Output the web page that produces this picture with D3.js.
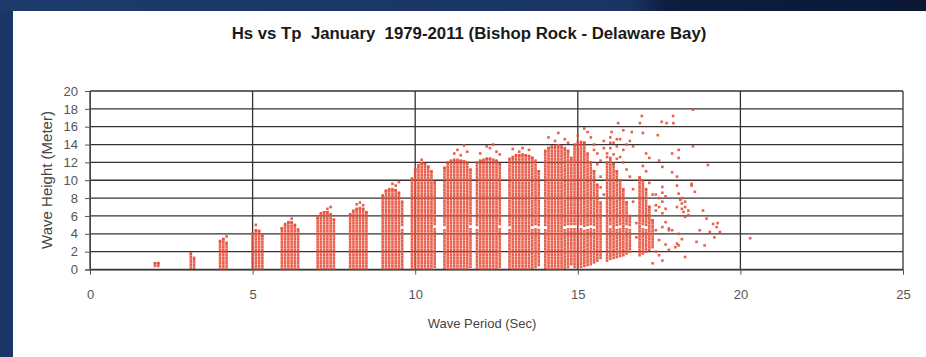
<!DOCTYPE html>
<html><head><meta charset="utf-8">
<script src="https://cdn.jsdelivr.net/npm/d3@7"></script>
<style>body{margin:0;background:#1b3768;}svg{display:block;}</style>
</head><body><svg id="c" width="926" height="357"></svg>
<script>
// ---- data ----
const titleText = "Hs vs Tp  January  1979-2011 (Bishop Rock - Delaware Bay)";
const xLabel = "Wave Period (Sec)";
const yLabel = "Wave Height (Meter)";
const xTicks = [0, 5, 10, 15, 20, 25];
const yTicks = [0, 2, 4, 6, 8, 10, 12, 14, 16, 18, 20];
// dense observation strips: [Tp, lowest Hs, highest Hs]
const strips = [
[2.0,0.4,0.7],[2.1,0.4,0.7],
[3.1,0.2,1.8],[3.2,0.2,1.3],
[4.0,0.1,3.2],[4.1,0.1,3.4],[4.2,0.1,3.0],
[5.0,0.1,4.0],[5.1,0.1,4.4],[5.2,0.1,4.3],[5.3,0.1,3.8],
[5.9,0.1,4.6],[6.0,0.1,5.1],[6.1,0.1,5.3],[6.2,0.1,5.3],[6.3,0.1,5.0],[6.4,0.1,4.5],
[7.0,0.1,5.8],[7.1,0.1,6.3],[7.2,0.1,6.4],[7.3,0.1,6.4],[7.4,0.1,6.2],[7.5,0.1,5.6],
[8.0,0.1,6.2],[8.1,0.1,6.6],[8.2,0.1,6.8],[8.3,0.1,6.9],[8.4,0.1,6.8],[8.5,0.1,6.4],
[9.0,0.1,8.3],[9.1,0.1,8.8],[9.2,0.1,9.0],[9.3,0.1,9.0],[9.4,0.1,8.9],[9.5,0.1,8.6],[9.6,0.2,7.6],
[9.9,0.1,10.2],[10.0,0.1,11.2],[10.1,0.1,11.7],[10.2,0.1,11.9],[10.3,0.1,11.8],[10.4,0.1,11.5],[10.5,0.1,11.0],[10.6,0.3,9.8],
[10.9,0.2,11.4],[11.0,0.1,12.0],[11.1,0.1,12.2],[11.2,0.1,12.3],[11.3,0.1,12.3],[11.4,0.1,12.2],[11.5,0.1,12.1],[11.6,0.1,12.0],[11.7,0.3,11.2],
[11.9,0.2,12.0],[12.0,0.1,12.2],[12.1,0.1,12.3],[12.2,0.1,12.4],[12.3,0.1,12.4],[12.4,0.1,12.3],[12.5,0.1,12.2],[12.6,0.3,11.8],
[12.9,0.2,12.4],[13.0,0.1,12.6],[13.1,0.1,12.8],[13.2,0.1,12.8],[13.3,0.1,12.9],[13.4,0.1,12.8],[13.5,0.1,12.7],[13.6,0.2,12.5],[13.7,0.3,12.2],[13.8,0.5,11.0],
[14.0,0.2,13.3],[14.1,0.1,13.6],[14.2,0.1,13.8],[14.3,0.1,13.8],[14.4,0.1,13.9],[14.5,0.1,13.8],[14.6,0.2,13.6],[14.7,0.3,13.3],[14.8,0.6,12.5],
[14.9,0.3,14.0],[15.0,0.3,14.3],[15.1,0.3,14.3],[15.2,0.4,14.2],[15.3,0.5,13.0],[15.4,0.6,12.0],[15.5,0.8,11.0],[15.6,1.0,9.5],[15.7,1.3,7.5],
[15.9,1.0,12.0],[16.0,1.2,12.5],[16.1,1.3,11.8],[16.2,1.4,11.0],[16.3,1.5,10.0],[16.4,1.6,9.0],[16.5,1.8,7.5],[16.6,2.0,6.0],
[16.9,1.6,10.3],[17.0,1.8,10.0],[17.1,2.0,9.0],[17.2,2.2,7.0],[17.3,2.5,5.5]
];
const hsStep = 0.3;             // Hs resolution of plotted strip records
const missingHs = [4.6, 4.85];  // Hs band with no records
// isolated observations: [Tp, Hs]
const scattered = [
[4.2,3.7],[5.1,5.0],[6.2,5.7],[7.3,6.8],[7.4,7.0],[8.2,7.3],[8.3,7.5],[8.4,7.2],[9.3,9.6],[9.5,9.8],[9.4,9.4],[10.2,12.3],
[11.2,13.0],[11.5,13.9],[11.4,12.8],[11.6,13.2],[11.3,13.4],
[12.0,13.0],[12.3,13.6],[12.4,14.0],[12.5,13.2],[12.2,13.8],[12.6,12.9],
[13.0,13.5],[13.3,13.6],[13.5,13.4],[13.2,13.2],
[14.1,14.8],[14.4,15.3],[14.6,14.6],[14.3,14.4],[14.7,14.2],
[15.0,15.0],[15.2,15.8],[15.4,14.8],[15.5,14.0],[15.6,13.0],[15.3,15.4],[15.7,12.2],[15.5,13.4],[15.8,14.4],[15.8,13.6],
[15.9,13.0],[16.0,13.6],[16.1,14.2],[16.2,13.8],[16.3,14.6],[16.4,13.4],[16.5,14.0],[16.6,14.4],[16.7,13.8],[16.0,14.8],
[15.9,12.6],[16.1,12.9],[16.2,12.4],[16.4,12.0],[16.0,14.2],[16.2,14.6],[15.6,11.8],[15.7,10.4],[15.7,9.2],[15.8,8.4],
[16.24,16.4],[16.4,15.6],[16.04,15.4],[16.66,15.4],[16.3,12.6],[16.5,11.2],[16.6,10.4],[16.7,9.0],[16.7,7.6],[16.8,5.2],[16.8,3.6],
[16.91,16.4],[16.97,17.2],[17.0,15.3],[17.1,13.0],[17.2,12.5],[17.0,11.6],[17.2,9.7],[17.3,8.4],[17.4,7.2],[17.4,4.4],[17.3,0.7],[17.4,2.0],[17.1,11.0],
[17.46,15.05],[17.58,16.55],[17.73,16.4],[17.94,16.4],[17.93,17.2],[18.54,17.9],[18.54,13.8],[17.5,12.2],[17.9,13.0],[18.1,13.4],[18.1,12.5],
[17.6,11.5],[17.9,10.9],[18.05,10.4],[19.0,11.7],[18.5,9.4],[18.05,9.4],[18.5,9.6],[18.6,8.7],[18.1,8.5],[18.15,7.8],[18.05,7.0],[18.25,6.45],
[18.3,5.9],[18.4,6.1],[18.85,6.6],[18.96,5.7],[19.16,5.1],[19.3,5.2],[19.37,4.2],[19.2,3.6],[19.06,4.2],[18.75,4.4],[18.65,3.1],[18.1,2.7],
[18.0,2.5],[18.3,1.4],[18.9,2.7],[17.7,5.3],[17.6,4.75],[17.9,4.4],[17.8,4.4],[17.6,6.3],[17.6,9.25],[18.1,4.0],[17.5,3.3],[19.27,4.75],
[18.05,2.9],[17.8,4.6],[20.3,3.5],
[17.4,8.4],[17.5,8.0],[17.6,7.6],[17.7,8.2],[17.5,7.0],[17.7,6.8],[17.4,6.6],[17.6,8.6],
[18.2,7.4],[18.3,7.0],[18.2,6.8],[18.4,6.6],[18.3,7.6],[18.2,8.0],
[17.5,1.6],[17.8,2.2],[17.6,1.0],[18.2,3.4],[17.7,2.8]
];

// ---- drawing ----
const svg = d3.select("#c");
const W = 926, H = 357;
const FONT = "Liberation Sans, Arial, sans-serif";
const defs = svg.append("defs");
const g0 = defs.append("linearGradient").attr("id","topband").attr("x1","0").attr("x2","1");
g0.append("stop").attr("offset","0").attr("stop-color","#1d3a6c");
g0.append("stop").attr("offset","0.68").attr("stop-color","#1a3564");
g0.append("stop").attr("offset","0.72").attr("stop-color","#0c1d3f");
g0.append("stop").attr("offset","1").attr("stop-color","#0a1836");
svg.append("rect").attr("width",W).attr("height",H).attr("fill","#1b3768");
svg.append("rect").attr("width",W).attr("height",11).attr("fill","url(#topband)");
svg.append("rect").attr("x",13).attr("y",11).attr("width",W-13).attr("height",H-11).attr("fill","#ffffff");

const x = d3.scaleLinear().domain([0,25]).range([90,903]);
const y = d3.scaleLinear().domain([0,20]).range([269.5,91]);

const grid = svg.append("g");
grid.selectAll("line.h").data(yTicks).join("line")
  .attr("x1",x(0)).attr("x2",x(25)).attr("y1",d=>y(d)).attr("y2",d=>y(d))
  .attr("stroke","#333").attr("stroke-width",1.3);
grid.selectAll("line.v").data(xTicks).join("line")
  .attr("y1",y(0)).attr("y2",y(20)).attr("x1",d=>x(d)).attr("x2",d=>x(d))
  .attr("stroke","#333").attr("stroke-width",1.3);

// points
const pts = [];
strips.forEach(([tp,lo,hi])=>{
  for (const hs of d3.range(lo, hi+1e-6, hsStep)) {
    if (hs > missingHs[0] && hs < missingHs[1]) continue;
    pts.push([tp,hs]);
  }
  pts.push([tp,hi]);
});
scattered.forEach(p=>pts.push(p));
const s = 2.6;
svg.append("g").selectAll("rect").data(pts).join("rect")
  .attr("x",d=>x(d[0])-s/2).attr("y",d=>y(d[1])-s/2)
  .attr("width",s).attr("height",s)
  .attr("fill","#e5503b").attr("fill-opacity",0.9);

// axes
const xa = svg.append("g").attr("transform",`translate(0,${y(0)})`)
  .call(d3.axisBottom(x).tickValues(xTicks).tickSize(5).tickPadding(15).tickFormat(d3.format("d")));
const ya = svg.append("g").attr("transform",`translate(${x(0)},0)`)
  .call(d3.axisLeft(y).tickValues(yTicks).tickSize(5).tickPadding(7).tickFormat(d3.format("d")));
[xa,ya].forEach(a=>{
  a.select(".domain").attr("stroke","#444");
  a.selectAll(".tick line").attr("stroke","#555");
  a.selectAll("text").attr("fill","#555").attr("font-family",FONT).attr("font-size",13);
});

svg.append("text").attr("x",469).attr("y",39).attr("text-anchor","middle")
  .attr("xml:space","preserve").style("white-space","pre")
  .attr("font-family",FONT).attr("font-weight","bold")
  .attr("font-size",16.8).attr("fill","#1a1a1a").text(titleText);
svg.append("text").attr("x",482).attr("y",328).attr("text-anchor","middle")
  .attr("font-family",FONT).attr("font-size",13)
  .attr("fill","#444").text(xLabel);
svg.append("text").attr("transform","translate(52,180) rotate(-90)").attr("text-anchor","middle")
  .attr("font-family",FONT).attr("font-size",15)
  .attr("fill","#444").text(yLabel);
</script></body></html>
